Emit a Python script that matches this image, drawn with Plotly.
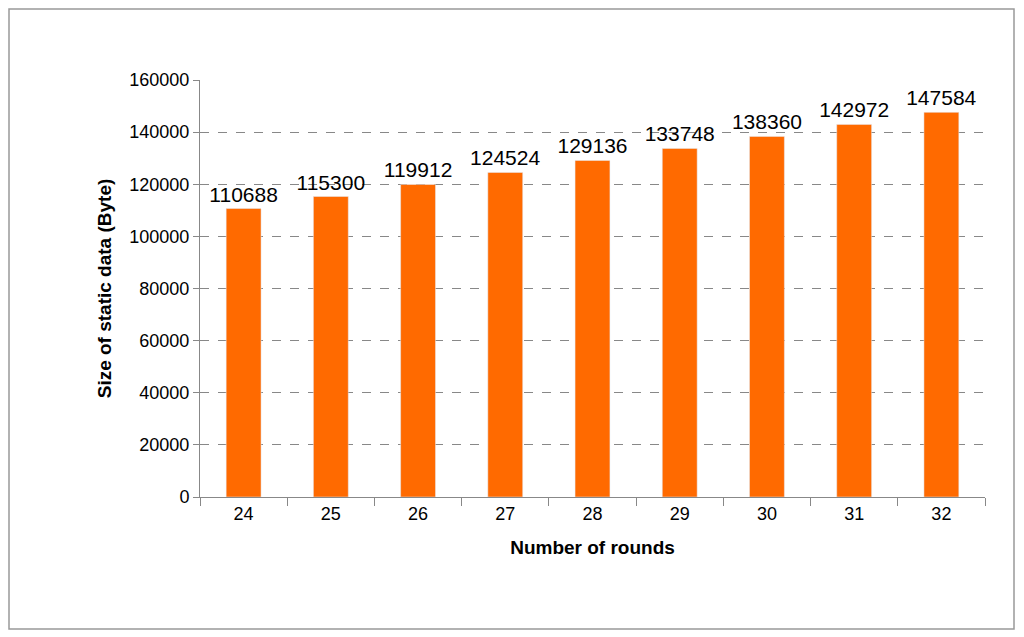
import plotly.graph_objects as go

rounds = ["24", "25", "26", "27", "28", "29", "30", "31", "32"]
sizes = [110688, 115300, 119912, 124524, 129136, 133748, 138360, 142972, 147584]
y_ticks = [0, 20000, 40000, 60000, 80000, 100000, 120000, 140000, 160000]

fig = go.Figure(go.Bar(
    x=rounds, y=sizes, width=0.4, marker_color="#FF6A00",
    text=[str(v) for v in sizes], textposition="outside", cliponaxis=False,
    constraintext="none",
    textfont=dict(size=21, color="black", family="Liberation Sans"),
))

# page body has an 8px margin; the figure is sized to fit after it
W, H = 1016, 629
l, r, t, b = 192, 39, 72, 140
pw, ph = W - l - r, H - t - b
fig.update_layout(
    width=W, height=H, margin=dict(l=l, r=r, t=t, b=b),
    paper_bgcolor="white", plot_bgcolor="white", showlegend=False,
    font=dict(family="Liberation Sans", size=18, color="black"),
    uniformtext=dict(mode=False),
    xaxis=dict(type="category", showline=True, linecolor="#888", ticks="outside",
               tickson="boundaries", ticklen=8, tickcolor="#888",
               title=dict(text="<b>Number of rounds</b>", font=dict(size=19), standoff=18)),
    yaxis=dict(range=[0, 160000], tickvals=y_ticks, ticktext=[str(v) for v in y_ticks],
               showline=True, linecolor="#888",
               ticks="outside", ticklen=6, tickcolor="#888",
               showgrid=True, gridcolor="#888", griddash="dash", gridwidth=1,
               title=dict(text="<b>Size of static data (Byte)</b>", font=dict(size=19), standoff=12)),
    shapes=[dict(type="rect", xref="paper", yref="paper",
                 x0=(1 - l) / pw, x1=(1006 - l) / pw,
                 y0=(t + ph - 621) / ph, y1=(t + ph - 1) / ph,
                 line=dict(color="#999", width=1.5))],
)
fig.write_html("out.html")
